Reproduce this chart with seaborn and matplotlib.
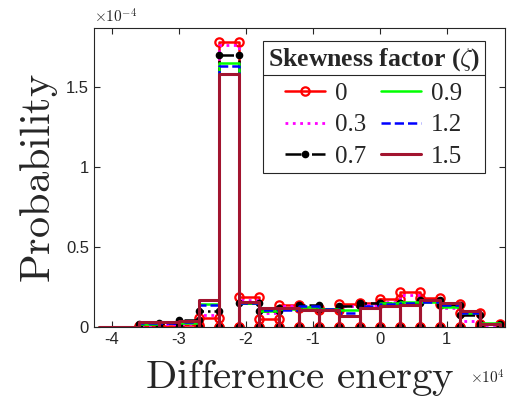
import numpy as np
import pandas as pd
import seaborn as sns
import matplotlib.pyplot as plt
from matplotlib.lines import Line2D

# bin edges (x 1e4) and bin heights (x 1e-4)
edges = np.round(np.arange(-4.2, 1.81, 0.3), 2)
zetas = ['0', '0.3', '0.7', '0.9', '1.2', '1.5']
p_00 = [0, 0, 0.01, 0.01, 0.015, 0.055, 1.78, 0.19, 0.05, 0.14, 0.12, 0.105, 0.145, 0.15, 0.175, 0.22, 0.18, 0.145, 0.09, 0.02]
p_03 = [0, 0, 0.015, 0.02, 0.02, 0.075, 1.76, 0.17, 0.09, 0.13, 0.125, 0.11, 0.13, 0.14, 0.16, 0.20, 0.17, 0.12, 0.042, 0.015]
p_07 = [0, 0, 0.02, 0.028, 0.045, 0.104, 1.70, 0.15, 0.10, 0.12, 0.14, 0.115, 0.13, 0.15, 0.15, 0.15, 0.167, 0.14, 0.077, 0.02]
p_09 = [0, 0, 0.019, 0.031, 0.025, 0.144, 1.65, 0.15, 0.10, 0.115, 0.125, 0.115, 0.11, 0.123, 0.15, 0.155, 0.16, 0.125, 0.087, 0.025]
p_12 = [0, 0, 0.025, 0.025, 0.03, 0.14, 1.63, 0.15, 0.105, 0.11, 0.135, 0.113, 0.087, 0.13, 0.145, 0.15, 0.16, 0.14, 0.09, 0.02]
p_15 = [0, 0, 0.031, 0.031, 0.042, 0.167, 1.58, 0.156, 0.12, 0.12, 0.11, 0.11, 0.07, 0.12, 0.133, 0.14, 0.17, 0.15, 0.104, 0.02]
series = [p_00, p_03, p_07, p_09, p_12, p_15]

styles = [
    dict(color='#FF0000', ls='-', marker='o', mfc='none', ms=6, mew=1.6, lw=1.8),
    dict(color='#FF00FF', ls=':', marker=None, lw=2.0),
    dict(color='black', ls='-.', marker='o', mfc='black', ms=4.5, lw=1.8),
    dict(color='#00FF00', ls='-', marker=None, lw=1.8),
    dict(color='#0000FF', ls='--', marker=None, lw=1.8),
    dict(color='#A2142F', ls='-', marker=None, lw=2.2),
]


def outline(h):
    # each bin drawn as an open rectangle: up, across, down
    xs, ys = [], []
    for i, v in enumerate(h):
        xs += [edges[i], edges[i], edges[i + 1], edges[i + 1]]
        ys += [0, v, v, 0]
    return pd.DataFrame({'x': xs, 'y': ys})


sns.set_style('ticks')
plt.rcParams['mathtext.fontset'] = 'cm'

fig = plt.figure(figsize=(5.13, 4.07), dpi=100)
ax = fig.add_axes([0.183, 0.196, 0.801, 0.734])

handles = []
for h, st, z in zip(series, styles, zetas):
    df = outline(h)
    st = dict(st)
    mk = st.pop('marker')
    kw = dict(marker=mk, markevery=slice(8, None)) if mk else {}
    sns.lineplot(data=df, x='x', y='y', sort=False, estimator=None, ax=ax,
                 color=st['color'], linestyle=st['ls'], linewidth=st['lw'],
                 markerfacecolor=st.get('mfc'), markersize=st.get('ms', 0),
                 markeredgewidth=st.get('mew', 1), markeredgecolor=st['color'],
                 **kw)
    handles.append(Line2D([], [], color=st['color'], ls=st['ls'], lw=st['lw'],
                          marker=mk, mfc=st.get('mfc'), ms=st.get('ms', 0),
                          mew=st.get('mew', 1), label=z))

ax.set_xlim(-4.27, 1.87)
ax.set_ylim(0, 1.865)
ax.set_xticks([-4, -3, -2, -1, 0, 1])
ax.set_yticks([0, 0.5, 1, 1.5])
ax.set_xticklabels(['-4', '-3', '-2', '-1', '0', '1'])
ax.set_yticklabels(['0', '0.5', '1', '1.5'])
ax.tick_params(direction='in', top=True, right=True, labelsize=12, length=4,
               width=0.8, colors='#262626')
for lab in ax.get_xticklabels() + ax.get_yticklabels():
    lab.set_family('Liberation Sans')
for s in ax.spines.values():
    s.set_linewidth(0.8)
    s.set_color('#262626')

ax.set_xlabel(r'$\mathrm{Difference\ energy}$', fontsize=29.5, color='#262626', labelpad=8)
ax.set_ylabel(r'$\mathrm{Probability}$', fontsize=30.5, color='#262626', labelpad=4)

ax.text(0.0, 1.01, r'$\times10^{-4}$', transform=ax.transAxes, fontsize=11,
        ha='left', va='bottom', color='#262626', family='Liberation Sans')
ax.text(1.0, -0.14, r'$\times10^{4}$', transform=ax.transAxes, fontsize=11,
        ha='right', va='top', color='#262626', family='Liberation Sans')

leg = ax.legend(handles=handles, ncol=2, loc='upper left', numpoints=1,
                bbox_to_anchor=(262.7 / 513, 1 - 41 / 407),
                bbox_transform=fig.transFigure,
                title=r'Skewness factor ($\zeta$)', frameon=True, fancybox=False,
                edgecolor='#262626', framealpha=1, borderaxespad=0,
                handlelength=1.6, handletextpad=0.4, columnspacing=0.6,
                labelspacing=0.37, borderpad=0.2,
                prop={'family': 'Liberation Serif', 'size': 18},
                title_fontproperties={'family': 'Liberation Serif', 'weight': 'bold', 'size': 18.5})
leg.get_frame().set_linewidth(0.8)

# separator under the legend title, as MATLAB draws it
fig.canvas.draw()
fb = leg.get_frame().get_window_extent()
tb = leg.get_title().get_window_extent()
ysep = (tb.y0 - 2) / fig.bbox.height
fig.add_artist(Line2D([fb.x0 / fig.bbox.width, fb.x1 / fig.bbox.width], [ysep, ysep],
                      transform=fig.transFigure, color='#262626', lw=0.8))

fig.savefig('out.png', dpi=100)
